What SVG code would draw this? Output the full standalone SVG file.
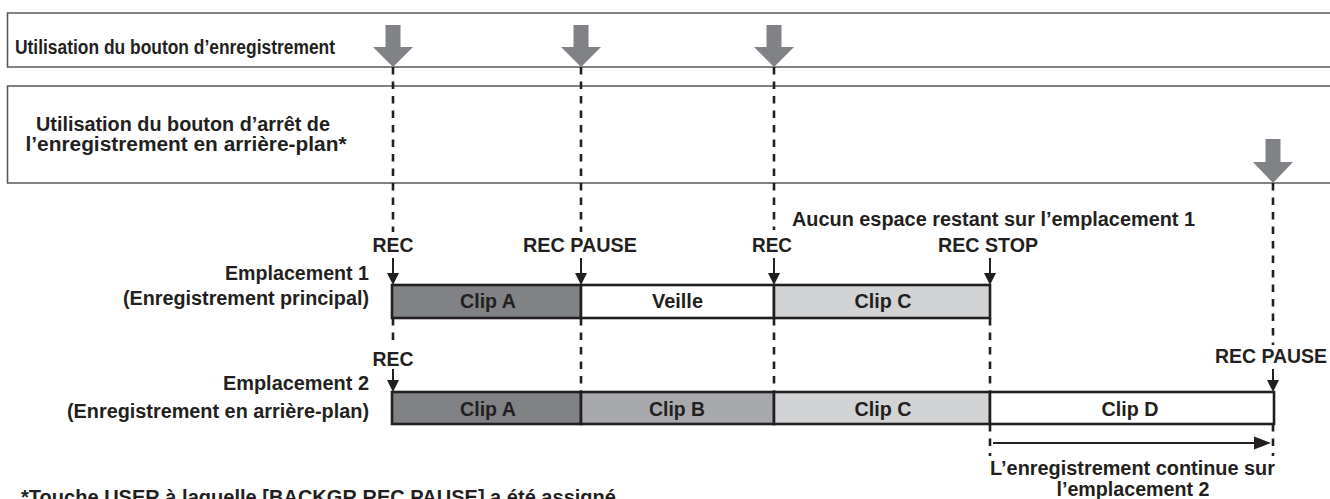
<svg xmlns="http://www.w3.org/2000/svg" width="1330" height="499" viewBox="0 0 1330 499">
<style>
text{font-family:"Liberation Sans",Arial,sans-serif;font-weight:bold;font-size:19.5px;fill:#231f20}
.m{text-anchor:middle}
.e{text-anchor:end}
.band{stroke:#58595b;stroke-width:1.6;fill:none}
.dash{stroke:#231f20;stroke-width:2.6;stroke-dasharray:7.5 7;fill:none}
.cell{stroke:#231f20;stroke-width:2.6}
.gray{fill:#808285}
.shaft{stroke:#231f20;stroke-width:2;fill:none}
.head{fill:#231f20}
</style>
<rect width="1330" height="499" fill="#fff"/>
<g id="band1">
<path class="band" d="M1331 13H7.5V67H1331"/>
<text x="15" y="54" textLength="320" lengthAdjust="spacingAndGlyphs">Utilisation du bouton d’enregistrement</text>
</g>
<g id="band2">
<path class="band" d="M1331 86H7.5V183H1331"/>
<text class="m" x="183" y="130.5" textLength="294" lengthAdjust="spacingAndGlyphs">Utilisation du bouton d’arrêt de</text>
<text class="m" x="186" y="150.5" textLength="321" lengthAdjust="spacingAndGlyphs">l’enregistrement en arrière-plan*</text>
</g>
<g id="connectors">
<path class="dash" d="M393 67V232M393 318V345M581 67V232M581 318V392M774 67V230M774 318V392M990 318V392M990 424V456M1273 183V345M1273 424V456"/>
<polygon class="gray" points="385.5,25 400.5,25 400.5,47 413,47 393,67 373,47 385.5,47"/>
<polygon class="gray" points="573.5,25 588.5,25 588.5,47 601,47 581,67 561,47 573.5,47"/>
<polygon class="gray" points="766.5,25 781.5,25 781.5,47 794,47 774,67 754,47 766.5,47"/>
<polygon class="gray" points="1265.5,139 1280.5,139 1280.5,162 1293,162 1273,183 1253,162 1265.5,162"/>
<path class="shaft" d="M393 258V275M581 258V275M774 258V275M990 258V275M393 369V382M1273 369V382"/>
<polygon class="head" points="387,273 399,273 393,285"/>
<polygon class="head" points="575,273 587,273 581,285"/>
<polygon class="head" points="768,273 780,273 774,285"/>
<polygon class="head" points="984,273 996,273 990,285"/>
<polygon class="head" points="387,380 399,380 393,392"/>
<polygon class="head" points="1267,380 1279,380 1273,392"/>
<line class="shaft" x1="993" y1="443" x2="1256" y2="443"/>
<polygon class="head" points="1254,436.5 1271,443 1254,449.5"/>
</g>
<g id="labels">
<text class="m" x="393" y="252" textLength="41" lengthAdjust="spacingAndGlyphs">REC</text>
<text class="m" x="580" y="252" textLength="114" lengthAdjust="spacingAndGlyphs">REC PAUSE</text>
<text class="m" x="772" y="252" textLength="40" lengthAdjust="spacingAndGlyphs">REC</text>
<text class="m" x="988" y="252" textLength="100" lengthAdjust="spacingAndGlyphs">REC STOP</text>
<text class="m" x="993.5" y="226" textLength="403" lengthAdjust="spacingAndGlyphs">Aucun espace restant sur l’emplacement 1</text>
<text class="m" x="393" y="366" textLength="41" lengthAdjust="spacingAndGlyphs">REC</text>
<text class="m" x="1271" y="363" textLength="112" lengthAdjust="spacingAndGlyphs">REC PAUSE</text>
<text class="m" x="1132.5" y="475" textLength="285" lengthAdjust="spacingAndGlyphs">L’enregistrement continue sur</text>
<text class="m" x="1133" y="496" textLength="153" lengthAdjust="spacingAndGlyphs">l’emplacement 2</text>
<text x="21" y="504" textLength="595" lengthAdjust="spacingAndGlyphs">*Touche USER à laquelle [BACKGR REC PAUSE] a été assigné</text>
</g>
<g id="slot1">
<text class="e" x="369" y="280" textLength="144" lengthAdjust="spacingAndGlyphs">Emplacement 1</text>
<text class="e" x="369" y="305" textLength="246" lengthAdjust="spacingAndGlyphs">(Enregistrement principal)</text>
<rect class="cell" x="392" y="285" width="189" height="33" fill="#808285"/>
<rect class="cell" x="581" y="285" width="193" height="33" fill="#ffffff"/>
<rect class="cell" x="774" y="285" width="216" height="33" fill="#d1d3d4"/>
<text class="m" x="488" y="308" textLength="56" lengthAdjust="spacingAndGlyphs">Clip A</text>
<text class="m" x="677.5" y="308" textLength="51" lengthAdjust="spacingAndGlyphs">Veille</text>
<text class="m" x="883" y="308" textLength="57" lengthAdjust="spacingAndGlyphs">Clip C</text>
</g>
<g id="slot2">
<text class="e" x="369" y="390" textLength="146" lengthAdjust="spacingAndGlyphs">Emplacement 2</text>
<text class="e" x="369" y="418" textLength="302" lengthAdjust="spacingAndGlyphs">(Enregistrement en arrière-plan)</text>
<rect class="cell" x="392" y="392" width="189" height="32" fill="#808285"/>
<rect class="cell" x="581" y="392" width="193" height="32" fill="#a7a9ac"/>
<rect class="cell" x="774" y="392" width="216" height="32" fill="#d1d3d4"/>
<rect class="cell" x="990" y="392" width="284" height="32" fill="#ffffff"/>
<text class="m" x="488" y="415.5" textLength="56" lengthAdjust="spacingAndGlyphs">Clip A</text>
<text class="m" x="677" y="415.5" textLength="56" lengthAdjust="spacingAndGlyphs">Clip B</text>
<text class="m" x="883" y="415.5" textLength="57" lengthAdjust="spacingAndGlyphs">Clip C</text>
<text class="m" x="1130" y="415.5" textLength="57" lengthAdjust="spacingAndGlyphs">Clip D</text>
</g>
</svg>
